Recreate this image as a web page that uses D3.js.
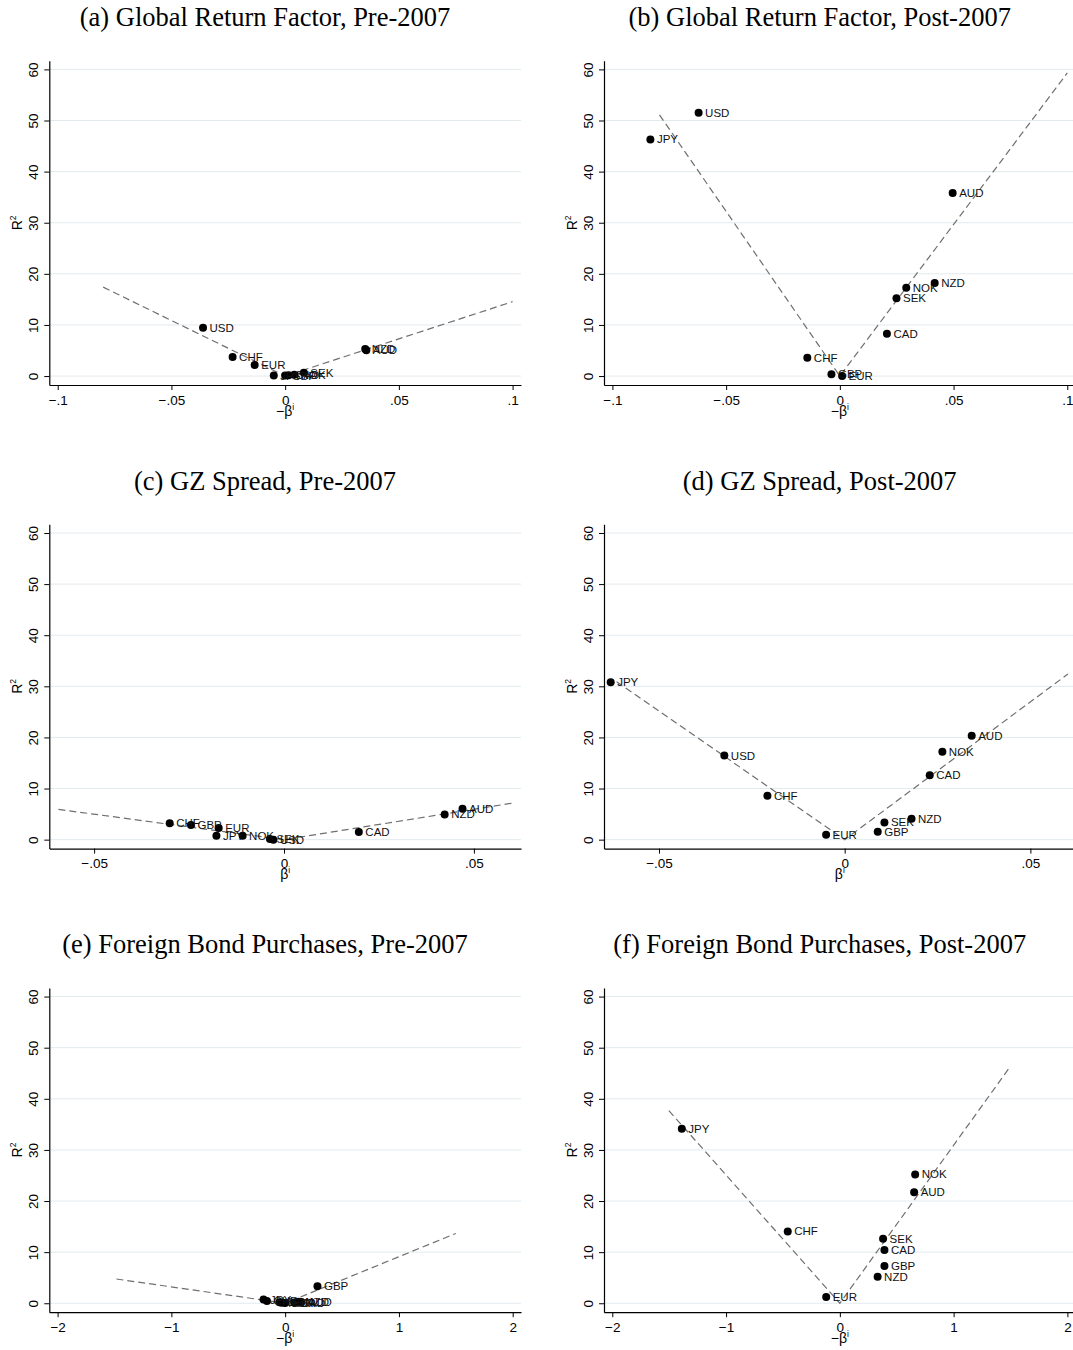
<!DOCTYPE html>
<html>
<head>
<meta charset="utf-8">
<script src="https://cdn.jsdelivr.net/npm/d3@7"></script>
<style>
  body { margin: 0; background: #fff; }
  svg { display: block; }
</style>
</head>
<body>
<svg id="fig" width="1073" height="1350"></svg>
<script>
// Currency order shared by every panel's arrays
const currencies = ["USD", "JPY", "EUR", "GBP", "CHF", "CAD", "AUD", "NZD", "NOK", "SEK"];

// (a) Global return factor, pre-2007: -beta and R^2 (%)
const grfPreBeta = [-0.0361, -0.0050, -0.0134, 0.0000, -0.0231, 0.0015, 0.0357, 0.0352, 0.0040, 0.0082];
const grfPreR2   = [9.45, 0.10, 2.15, 0.10, 3.71, 0.15, 5.05, 5.30, 0.25, 0.65];
// (b) Global return factor, post-2007
const grfPostBeta = [-0.0621, -0.0833, 0.0010, -0.0037, -0.0143, 0.0207, 0.0496, 0.0417, 0.0292, 0.0249];
const grfPostR2   = [51.5, 46.3, 0.0, 0.35, 3.6, 8.3, 35.8, 18.2, 17.3, 15.2];
// (c) GZ spread, pre-2007: beta and R^2
const gzPreBeta = [-0.0028, -0.0178, -0.0172, -0.0245, -0.0301, 0.0197, 0.0470, 0.0423, -0.0109, -0.0037];
const gzPreR2   = [0.0, 0.78, 2.28, 2.86, 3.19, 1.5, 6.05, 4.94, 0.78, 0.15];
// (d) GZ spread, post-2007
const gzPostBeta = [-0.0324, -0.0630, -0.0050, 0.0089, -0.0208, 0.0229, 0.0342, 0.0180, 0.0263, 0.0107];
const gzPostR2   = [16.45, 30.8, 0.98, 1.56, 8.58, 12.6, 20.35, 4.1, 17.2, 3.38];
// (e) Foreign bond purchases, pre-2007 (no USD estimate)
const fbpPreBeta = [null, -0.19, 0.00, 0.284, -0.16, 0.08, 0.14, 0.12, -0.03, -0.05];
const fbpPreR2   = [null, 0.72, 0.05, 3.32, 0.45, 0.15, 0.25, 0.30, 0.10, 0.20];
// (f) Foreign bond purchases, post-2007 (no USD estimate)
const fbpPostBeta = [null, -1.389, -0.12, 0.392, -0.458, 0.392, 0.653, 0.332, 0.662, 0.38];
const fbpPostR2   = [null, 34.16, 1.24, 7.3, 14.05, 10.4, 21.7, 5.2, 25.2, 12.6];

// Dashed V-shaped fits: [left end], [vertex], [right end]
const grfPreFit  = [[-0.080, 17.4], [0, 0], [0.100, 14.55]];
const grfPostFit = [[-0.0793, 51.1], [0, 0], [0.100, 59.3]];
const gzPreFit   = [[-0.0594, 5.92], [0, 0], [0.0601, 7.15]];
const gzPostFit  = [[-0.0614, 30.9], [0, 0], [0.0601, 32.4]];
const fbpPreFit  = [[-1.483, 4.75], [0, 0], [1.500, 13.66]];
const fbpPostFit = [[-1.503, 37.7], [0, 0], [1.491, 46.1]];

// Axis ticks
const rTicks = [0, 10, 20, 30, 40, 50, 60];
const grfTicks = [-0.1, -0.05, 0, 0.05, 0.1];
const grfTickLabels = ["\u2212.1", "\u2212.05", "0", ".05", ".1"];
const gzTicks = [-0.05, 0, 0.05];
const gzTickLabels = ["\u2212.05", "0", ".05"];
const fbpTicks = [-2, -1, 0, 1, 2];
const fbpTickLabels = ["\u22122", "\u22121", "0", "1", "2"];

const titles = [
  "(a) Global Return Factor, Pre-2007",
  "(b) Global Return Factor, Post-2007",
  "(c) GZ Spread, Pre-2007",
  "(d) GZ Spread, Post-2007",
  "(e) Foreign Bond Purchases, Pre-2007",
  "(f) Foreign Bond Purchases, Post-2007"
];

const panels = [
  { title: titles[0], beta: grfPreBeta,  r2: grfPreR2,  fit: grfPreFit,  xdom: [-0.1037, 0.1037], ticks: grfTicks, labels: grfTickLabels, neg: true,  col: 0, row: 0 },
  { title: titles[1], beta: grfPostBeta, r2: grfPostR2, fit: grfPostFit, xdom: [-0.1037, 0.1037], ticks: grfTicks, labels: grfTickLabels, neg: true,  col: 1, row: 0 },
  { title: titles[2], beta: gzPreBeta,   r2: gzPreR2,   fit: gzPreFit,   xdom: [-0.0618, 0.0624], ticks: gzTicks,  labels: gzTickLabels,  neg: false, col: 0, row: 1 },
  { title: titles[3], beta: gzPostBeta,  r2: gzPostR2,  fit: gzPostFit,  xdom: [-0.0648, 0.0622], ticks: gzTicks,  labels: gzTickLabels,  neg: false, col: 1, row: 1 },
  { title: titles[4], beta: fbpPreBeta,  r2: fbpPreR2,  fit: fbpPreFit,  xdom: [-2.073, 2.073],   ticks: fbpTicks, labels: fbpTickLabels, neg: true,  col: 0, row: 2 },
  { title: titles[5], beta: fbpPostBeta, r2: fbpPostR2, fit: fbpPostFit, xdom: [-2.073, 2.073],   ticks: fbpTicks, labels: fbpTickLabels, neg: true,  col: 1, row: 2 }
];

// Layout of the 3x2 grid
const colOffset = 554.7, rowOffset = 463.6;
const plotLeft = 49.3, plotWidth = 471.7;
const plotTop = 60.7, plotBottom = 385;
const yDomain = [-1.75, 61.7];

const sans = "'Liberation Sans', Arial, Helvetica, sans-serif";
const serif = "'Liberation Serif', 'Times New Roman', Times, serif";

const svg = d3.select("#fig");
svg.append("rect").attr("width", 1073).attr("height", 1350).attr("fill", "#fff");

panels.forEach(p => {
  const ox = p.col * colOffset, oy = p.row * rowOffset;
  const g = svg.append("g").attr("transform", `translate(${ox},${oy})`);

  const x = d3.scaleLinear().domain(p.xdom).range([plotLeft, plotLeft + plotWidth]);
  const y = d3.scaleLinear().domain(yDomain).range([plotBottom, plotTop]);

  // Title
  g.append("text")
    .attr("x", 265).attr("y", 26)
    .attr("text-anchor", "middle")
    .attr("font-family", serif).attr("font-size", 26.5)
    .attr("fill", "#000")
    .text(p.title);

  // Horizontal grid
  g.append("g").selectAll("line").data(rTicks).join("line")
    .attr("x1", plotLeft).attr("x2", plotLeft + plotWidth)
    .attr("y1", d => y(d)).attr("y2", d => y(d))
    .attr("stroke", "#e2eaee").attr("stroke-width", 1);

  // Y axis
  const yAxis = g.append("g").attr("transform", `translate(${plotLeft},0)`)
    .call(d3.axisLeft(y).tickValues(rTicks).tickSize(5).tickSizeOuter(0).tickFormat(d3.format("d")));
  yAxis.select(".domain").attr("stroke", "#000").attr("stroke-width", 1.2);
  yAxis.selectAll(".tick line").attr("stroke", "#000");
  yAxis.selectAll(".tick text")
    .attr("transform", "rotate(-90)")
    .attr("x", 0).attr("y", -11.5).attr("dy", 0)
    .attr("text-anchor", "middle")
    .attr("font-family", sans).attr("font-size", 13.5).attr("fill", "#000");

  // X axis
  const xAxis = g.append("g").attr("transform", `translate(0,${plotBottom})`)
    .call(d3.axisBottom(x).tickValues(p.ticks).tickSize(5).tickSizeOuter(0)
      .tickFormat((d, i) => p.labels[i]));
  xAxis.select(".domain").attr("stroke", "#000").attr("stroke-width", 1.2);
  xAxis.selectAll(".tick line").attr("stroke", "#000");
  xAxis.selectAll(".tick text")
    .attr("y", 19.5).attr("dy", 0)
    .attr("font-family", sans).attr("font-size", 13.5).attr("fill", "#000");

  // Axis titles
  const yt = g.append("text")
    .attr("transform", `translate(22,${(plotTop + plotBottom) / 2}) rotate(-90)`)
    .attr("text-anchor", "middle")
    .attr("font-family", sans).attr("font-size", 14).attr("fill", "#000");
  yt.append("tspan").text("R");
  yt.append("tspan").attr("font-size", 8.5).attr("dy", -6).text("2");

  const xt = g.append("text")
    .attr("x", plotLeft + plotWidth / 2).attr("y", 415.5)
    .attr("text-anchor", "middle")
    .attr("font-family", sans).attr("font-size", 14).attr("fill", "#000");
  xt.append("tspan").text(p.neg ? "\u2212\u03B2" : "\u03B2");
  xt.append("tspan").attr("font-size", 8.5).attr("dy", -6).text("i");

  // Fitted V lines
  const line = d3.line().x(d => x(d[0])).y(d => y(d[1]));
  g.append("path")
    .attr("d", line(p.fit))
    .attr("fill", "none")
    .attr("stroke", "#6f6f6f").attr("stroke-width", 1.2)
    .attr("stroke-dasharray", "7,4");

  // Points and labels
  const pts = currencies.map((c, i) => ({ c, b: p.beta[i], r: p.r2[i] }))
    .filter(d => d.b !== null && d.r !== null);

  g.append("g").selectAll("circle").data(pts).join("circle")
    .attr("cx", d => x(d.b)).attr("cy", d => y(d.r))
    .attr("r", 4).attr("fill", "#000");

  g.append("g").selectAll("text").data(pts).join("text")
    .attr("x", d => x(d.b) + 6.5).attr("y", d => y(d.r))
    .attr("dy", "0.35em")
    .attr("font-family", sans).attr("font-size", 11.5).attr("fill", "#111")
    .text(d => d.c);
});
</script>
</body>
</html>
